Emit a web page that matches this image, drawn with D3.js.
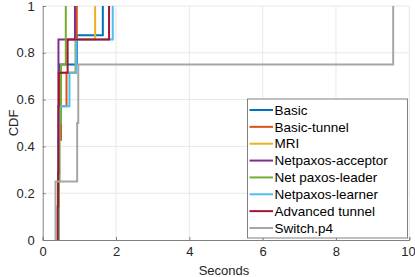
<!DOCTYPE html>
<html><head><meta charset="utf-8">
<script src="https://cdn.jsdelivr.net/npm/d3@7"></script>
<style>body{margin:0;background:#fff}svg{display:block;font-family:"Liberation Sans",Arial,sans-serif}</style>
</head><body>
<svg id="c" width="415" height="277"></svg>
<script>
const seriesNames = ["Basic","Basic-tunnel","MRI","Netpaxos-acceptor","Net paxos-leader","Netpaxos-learner","Advanced tunnel","Switch.p4"];
const seriesColors = ["#0072BD","#D95319","#EDB120","#7E2F8E","#77AC30","#4DBEEE","#A2142F","#A6A6A6"];
const basic = [0.42,0.42,0.43,0.44,0.46,0.47,0.93,1.64];
const basicTunnel = [0.42,0.43,0.44,0.50,0.65,0.90,0.93];
const mri = [0.42,0.42,0.43,0.44,0.45,0.90,1.43];
const netpaxosAcceptor = [0.41,0.42,0.42,0.43,0.43,0.43,0.88];
const netpaxosLeader = [0.44,0.46,0.50,0.63];
const netpaxosLearner = [0.42,0.42,0.43,0.45,0.73,0.91,1.91];
const advancedTunnel = [0.41,0.42,0.43,0.43,0.44,0.68,1.81];
const switchP4 = [0.35,0.94,0.97,9.56];
const seriesData = [basic,basicTunnel,mri,netpaxosAcceptor,netpaxosLeader,netpaxosLearner,advancedTunnel,switchP4];
const xTicks = [0,2,4,6,8,10];
const yTicks = [0,0.2,0.4,0.6,0.8,1];
const yTickLabels = ["0","0.2","0.4","0.6","0.8","1"];

const svg = d3.select("#c");
const L=42.7,R=409.3,T=6,B=240;
const x = d3.scaleLinear().domain([0,10]).range([L,R]);
const y = d3.scaleLinear().domain([0,1]).range([B,T]);
const txt = "#262626";

// grid
const g = svg.append("g");
g.selectAll(".gx").data(xTicks.slice(1)).enter().append("line")
 .attr("x1",d=>x(d)).attr("x2",d=>x(d)).attr("y1",T).attr("y2",B)
 .attr("stroke","#e8e8e8").attr("stroke-width",1);
g.selectAll(".gy").data(yTicks.slice(1)).enter().append("line")
 .attr("y1",d=>y(d)).attr("y2",d=>y(d)).attr("x1",L).attr("x2",R)
 .attr("stroke","#e8e8e8").attr("stroke-width",1);

// axes
const xAxis = d3.axisBottom(x).tickValues(xTicks).tickSize(-3).tickPadding(10).tickFormat(d3.format("d"));
const yAxis = d3.axisLeft(y).tickValues(yTicks).tickSize(-3).tickPadding(8).tickFormat((d,i)=>yTickLabels[i]);
const ax = svg.append("g").attr("transform",`translate(0,${B})`).call(xAxis);
const ay = svg.append("g").attr("transform",`translate(${L},0)`).call(yAxis);
[ax,ay].forEach(a=>{
  a.select(".domain").attr("stroke","#808080").attr("stroke-width",1);
  a.selectAll(".tick line").attr("stroke","#808080");
  a.selectAll("text").attr("fill",txt).attr("font-size","13px").attr("font-family","Liberation Sans, Arial, sans-serif");
});
ax.selectAll("text").attr("dy","0.71em").attr("y",7);
ax.selectAll(".tick").filter(d=>d===10).select("text").attr("text-anchor","end").attr("x",6);

// lines
const line = d3.line().x(d=>x(d[0])).y(d=>y(d[1]));
svg.append("clipPath").attr("id","cp").append("rect").attr("x",L).attr("y",T-2).attr("width",R-L+2).attr("height",B-T+2);
const lg = svg.append("g").attr("clip-path","url(#cp)");
seriesData.forEach((vals,k)=>{
  const s = vals.slice().sort((a,b)=>a-b);
  const n = s.length;
  const pts = [];
  s.forEach((v,i)=>{pts.push([v,i/n]);pts.push([v,(i+1)/n]);});
  lg.append("path").attr("d",line(pts)).attr("fill","none")
    .attr("stroke",seriesColors[k]).attr("stroke-width",2).attr("stroke-linejoin","miter");
});

// labels
svg.append("text").attr("x",(L+R)/2-2).attr("y",275).attr("text-anchor","middle")
 .attr("font-size","13px").attr("fill",txt).text("Seconds");
svg.append("text").attr("transform",`translate(13,${(T+B)/2}) rotate(-90)`).attr("text-anchor","middle")
 .attr("dy","0.35em").attr("font-size","13px").attr("fill",txt).text("CDF");

// legend
const lgX=247.5,lgY=99,lgW=160,lgH=139;
svg.append("rect").attr("x",lgX).attr("y",lgY).attr("width",lgW).attr("height",lgH)
 .attr("fill","#fff").attr("stroke","#808080").attr("stroke-width",1);
const rowY = d3.scaleLinear().domain([0,7]).range([110,228]);
seriesNames.forEach((nm,i)=>{
  const yy=rowY(i);
  svg.append("line").attr("x1",249.5).attr("x2",273).attr("y1",yy).attr("y2",yy)
    .attr("stroke",seriesColors[i]).attr("stroke-width",2);
  svg.append("text").attr("x",274.5).attr("y",yy).attr("dy","0.35em")
    .attr("font-size","13.5px").attr("fill","#000").text(nm);
});
</script>
</body></html>
